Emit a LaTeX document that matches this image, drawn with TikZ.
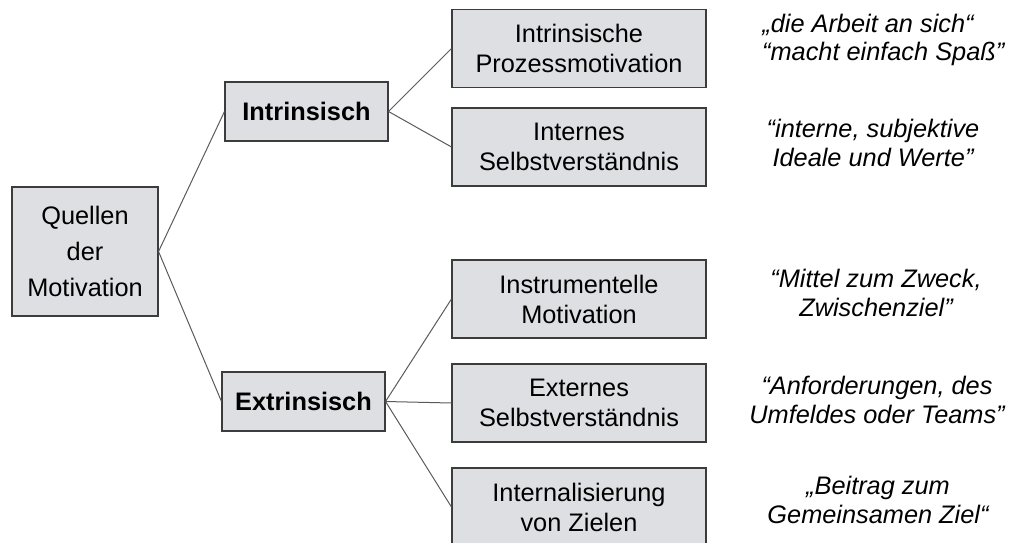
\documentclass[tikz,border=0pt]{standalone}
\usepackage{fontspec}
\setmainfont{Liberation Sans}
\definecolor{boxfill}{HTML}{DEDFE3}
\definecolor{boxline}{HTML}{3C3C3C}
\definecolor{linkline}{HTML}{5A5A5A}

\begin{document}
\begin{tikzpicture}
			[x=0.75pt,y=-0.75pt,
			 box/.style={draw=boxline,fill=boxfill,line width=0.8pt,inner sep=0pt,align=center,
			   font=\fontsize{19}{22.5}\selectfont},
			 root/.style={box,minimum width=109.5pt,minimum height=96.75pt,
			   font=\fontsize{19}{27}\selectfont},
			 kind/.style={box,minimum width=122.25pt,minimum height=44.25pt,
			   font=\fontsize{19}{22.5}\selectfont\bfseries},
			 leaf/.style={box,minimum width=190.5pt,minimum height=58.5pt},
			 quote/.style={align=center,inner sep=0pt,font=\fontsize{19}{21.5}\selectfont\itshape},
			 link/.style={linkline,line width=0.75pt}]

			\useasboundingbox (0,0) rectangle (1012,542);

			\node[root] (quellen) at (85,251.5) {Quellen\\der\\Motivation};
			\node[kind] (intr) at (306.5,111.5) {Intrinsisch};
			\node[kind] (extr) at (303.5,401.5) {Extrinsisch};

			\node[leaf] (prozess) at (579,48.5) {Intrinsische\\Prozessmotivation};
			\node[leaf] (internes) at (579,147) {Internes\\Selbstverständnis};
			\node[leaf] (instr) at (579,299) {Instrumentelle\\Motivation};
			\node[leaf] (externes) at (579,403) {Externes\\Selbstverständnis};
			\node[leaf] (ziele) at (579,507) {Internalisierung\\von Zielen};

			\node[quote] (q1) at (868,40) {„die Arbeit an sich“\\ \hspace*{1.2em}“macht einfach Spaß”};
			\node[quote] (q2) at (873,143) {“interne, subjektive\\Ideale und Werte”};
			\node[quote] (q3) at (876,293) {“Mittel zum Zweck,\\Zwischenziel”};
			\node[quote] (q4) at (877,400) {“Anforderungen, des\\Umfeldes oder Teams”};
			\node[quote] (q5) at (878,500) {„Beitrag zum\\Gemeinsamen Ziel“};

			\draw[link] (quellen.east) -- (intr.west);
			\draw[link] (quellen.east) -- (extr.west);
			\draw[link] (intr.east) -- (prozess.west);
			\draw[link] (intr.east) -- (internes.west);
			\draw[link] (extr.east) -- (instr.west);
			\draw[link] (extr.east) -- (externes.west);
			\draw[link] (extr.east) -- (ziele.west);
		\end{tikzpicture}
\end{document}
